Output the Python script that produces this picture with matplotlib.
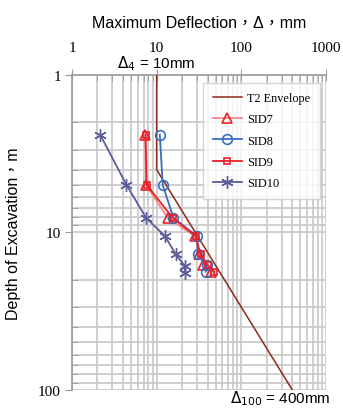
import matplotlib
matplotlib.use("Agg")
import matplotlib.pyplot as plt
from matplotlib.ticker import LogLocator, NullFormatter, FixedLocator, FixedFormatter

# envelope: constant 10 mm down to 4 m, then straight (log-log) to 400 mm at 100 m
env_defl = [10, 10, 400]
env_depth = [1, 4, 100]

depth = [2.4, 5.0, 8.1, 10.6, 13.8, 16.1, 17.8]
sid7 = [7.3, 7.5, 13.5, 28.5, 32, 35.5, 44]
sid8 = [10.9, 11.8, 15.8, 30, 30.5, 39, 38]
sid9 = [7.4, 7.6, 15.5, 29, 33, 40, 48]
sid10_depth = [2.4, 5.0, 8.1, 10.6, 13.8, 16.3, 18.2]
sid10 = [2.15, 4.4, 7.5, 12.6, 16.8, 21.4, 21.4]

x_ticks = [1, 10, 100, 1000]
y_ticks = [1, 10, 100]

serif = "Liberation Serif"
sans = ["Liberation Sans", "Noto Sans CJK TC"]

fig = plt.figure(figsize=(3.43, 4.10), dpi=100)
ax = fig.add_axes([0.21, 0.047, 0.74, 0.768])

ax.set_xscale("log")
ax.set_yscale("log")
ax.set_xlim(1, 1000)
ax.set_ylim(100, 1)

grid_c = "#cbcbcb"
ax.grid(True, which="both", color=grid_c, lw=1.3, zorder=0)
ax.set_axisbelow(True)

ax.plot(env_defl, env_depth, color="#8b2a18", lw=1.1, label="T2 Envelope", zorder=3)
ax.plot(sid7, depth, color="#f28b8b", lw=1.3, marker="^", ms=7, mfc="none",
        mec="#e8202a", mew=1.2, label="SID7", zorder=4)
ax.plot(sid8, depth, color="#3a6fbf", lw=1.3, marker="o", ms=7, mfc="none",
        mec="#3a6fbf", mew=1.2, label="SID8", zorder=4)
ax.plot(sid9, depth, color="#e8202a", lw=1.3, marker="s", ms=4.5, mfc="none",
        mec="#e8202a", mew=1.2, label="SID9", zorder=4)
ax.plot(sid10, sid10_depth, color="#5c5c98", lw=1.3, marker=(6, 2, 0), ms=9,
        mec="#5c5c98", mew=1.0, label="SID10", zorder=4)

# axes styling
for s in ["right", "bottom"]:
    ax.spines[s].set_visible(False)
for s in ["left", "top"]:
    ax.spines[s].set_color("#9a9a9a")
    ax.spines[s].set_linewidth(1.2)

ax.xaxis.set_ticks_position("top")
ax.xaxis.set_major_locator(FixedLocator(x_ticks))
ax.xaxis.set_major_formatter(FixedFormatter([str(v) for v in x_ticks]))
ax.xaxis.set_minor_locator(LogLocator(base=10, subs=range(2, 10)))
ax.xaxis.set_minor_formatter(NullFormatter())
ax.yaxis.set_major_locator(FixedLocator(y_ticks))
ax.yaxis.set_major_formatter(FixedFormatter([str(v) for v in y_ticks]))
ax.yaxis.set_minor_locator(LogLocator(base=10, subs=range(2, 10)))
ax.yaxis.set_minor_formatter(NullFormatter())

ax.tick_params(axis="x", which="major", direction="inout", length=8, color="#9a9a9a",
               labelsize=11, pad=11)
ax.tick_params(axis="x", which="minor", direction="in", length=4, color="#9a9a9a")
ax.tick_params(axis="y", which="major", direction="out", length=5, color="#9a9a9a",
               labelsize=11, pad=3)
ax.tick_params(axis="y", which="minor", direction="in", length=4, color="#9a9a9a")
for lab in ax.get_xticklabels() + ax.get_yticklabels():
    lab.set_fontfamily(serif)

ax.set_xlabel("Maximum Deflection，Δ，mm", family=sans, fontsize=11.5, labelpad=10)
ax.xaxis.set_label_position("top")
ax.set_ylabel("Depth of Excavation，m", family=sans, fontsize=11.5, labelpad=12)

ax.text(10, 0.955, r"$\Delta_4$ = 10mm", family=sans, fontsize=11, ha="center",
        va="bottom", clip_on=False)
ax.text(290, 128, r"$\Delta_{100}$ = 400mm", family=sans, fontsize=11, ha="center",
        va="bottom", clip_on=False)

leg = ax.legend(loc="upper right", bbox_to_anchor=(1.0, 0.995),
                prop={"family": serif, "size": 8.8}, frameon=True, fancybox=False,
                handlelength=2.4, labelspacing=0.75, borderpad=0.8, handletextpad=0.4)
leg.get_frame().set_edgecolor(grid_c)
leg.get_frame().set_linewidth(1.0)

fig.savefig("out.png", dpi=100)
